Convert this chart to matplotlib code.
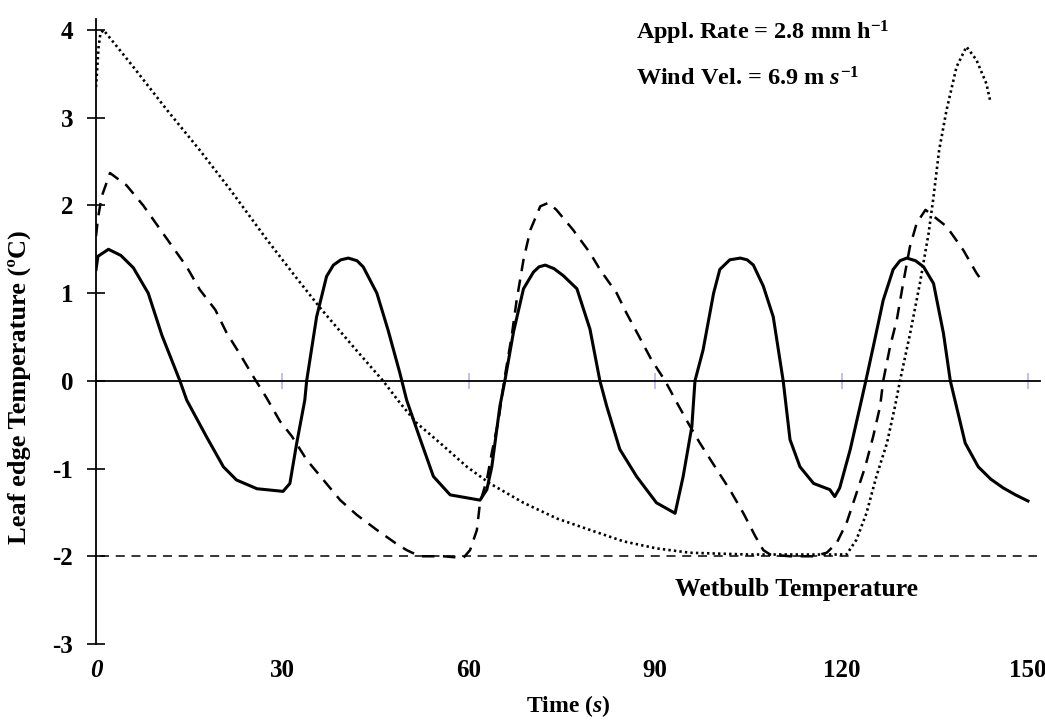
import matplotlib
matplotlib.use("Agg")
import matplotlib.pyplot as plt

plt.rcParams['font.family'] = ['Liberation Serif', 'DejaVu Serif']
plt.rcParams['font.weight'] = 'bold'
plt.rcParams['mathtext.fontset'] = 'custom'
plt.rcParams['mathtext.rm'] = 'Liberation Serif:bold'
plt.rcParams['mathtext.it'] = 'Liberation Serif:bold:italic'
plt.rcParams['mathtext.bf'] = 'Liberation Serif:bold'

# solid curve
t_solid = [0.0, 0.3, 2.0, 4.0, 6.0, 8.4, 10.6, 13.5, 14.6, 17.8, 20.5, 22.6, 25.9, 30.1,
           31.2, 32.3, 33.6, 33.9, 35.5, 37.1, 38.2, 39.4, 40.6, 42.0, 43.0, 45.2, 47.0, 48.9, 50.0,
           52.1, 54.3, 57.0, 61.8, 62.9, 63.7, 65.0, 65.8, 67.2, 68.8, 70.4, 71.3, 72.3, 73.7, 75.2,
           77.4, 79.5, 81.1, 82.2, 84.3, 87.0, 90.2, 93.2, 94.5, 95.9, 96.4, 97.7, 99.4,
           100.4, 102.0, 103.7, 104.8, 105.8, 107.4, 109.0, 110.6, 111.7, 113.3, 115.5, 118.1,
           118.9, 119.7, 121.4, 123.2, 123.9, 125.1, 126.7, 128.3, 129.4, 130.5, 131.9, 133.2, 134.8,
           136.4, 137.5, 139.9, 142.0, 144.0, 146.0, 148.0, 150.0]
y_solid = [1.27, 1.42, 1.50, 1.43, 1.29, 1.00, 0.52, 0.00, -0.22, -0.64, -0.98, -1.13, -1.23, -1.26,
           -1.17, -0.71, -0.22, 0.00, 0.73, 1.19, 1.32, 1.38, 1.40, 1.37, 1.30, 1.00, 0.58, 0.09, -0.22,
           -0.65, -1.09, -1.30, -1.36, -1.24, -0.98, -0.29, 0.00, 0.56, 1.05, 1.24, 1.30, 1.32, 1.28, 1.20,
           1.05, 0.59, 0.00, -0.29, -0.78, -1.09, -1.39, -1.51, -1.09, -0.52, 0.00, 0.35, 1.00,
           1.27, 1.38, 1.40, 1.38, 1.32, 1.08, 0.73, 0.00, -0.67, -0.98, -1.17, -1.24,
           -1.32, -1.22, -0.78, -0.22, 0.00, 0.39, 0.92, 1.27, 1.37, 1.40, 1.37, 1.30, 1.11,
           0.54, 0.00, -0.71, -0.98, -1.12, -1.22, -1.30, -1.37]

# dashed curve
t_dash = [0.0, 0.3, 0.9, 2.25, 4.9, 7.6, 10.0, 12.4, 14.6, 16.7, 19.2, 21.0, 23.2, 25.3, 27.5,
          29.6, 31.5, 33.9, 36.6, 39.3, 42.0, 45.2, 48.4, 50.0, 52.1, 55.9, 59.1, 60.2, 61.3,
          61.8, 62.9, 63.7, 64.8, 65.8, 66.9, 67.7, 68.8, 69.9, 71.5, 72.8, 74.1, 76.8, 79.5,
          81.1, 83.8, 85.4, 87.3, 89.4, 91.6, 93.5, 95.3, 97.2, 99.9, 102.0, 104.2, 106.1,
          107.4, 108.5, 111.7, 115.5, 117.6, 119.2, 120.8, 122.4, 123.8, 125.1, 126.2, 126.7,
          127.8, 128.9, 129.9, 131.0, 132.1, 133.5, 136.9, 139.6, 141.7, 142.3]
y_dash = [1.65, 1.85, 2.10, 2.37, 2.23, 2.00, 1.76, 1.52, 1.30, 1.04, 0.81, 0.55, 0.30, 0.05, -0.20,
          -0.46, -0.63, -0.90, -1.13, -1.36, -1.53, -1.70, -1.86, -1.93, -2.00, -2.00, -2.02, -1.93, -1.70,
          -1.39, -1.13, -0.82, -0.44, 0.05, 0.51, 0.92, 1.38, 1.72, 1.99, 2.03, 1.95, 1.72, 1.46,
          1.27, 1.00, 0.77, 0.52, 0.24, 0.00, -0.25, -0.48, -0.71, -1.01, -1.24, -1.51, -1.77,
          -1.93, -1.98, -2.00, -2.00, -1.96, -1.85, -1.62, -1.28, -0.98, -0.63, -0.29, 0.00,
          0.39, 0.70, 1.11, 1.53, 1.80, 1.95, 1.76, 1.49, 1.23, 1.17]

# dotted curve
t_dot = [0.0, 0.4, 0.7, 1.2, 3.5, 6.0, 11.4, 16.7, 21.6, 27.5, 32.3, 36.1, 41.4, 46.2, 48.9,
         51.6, 55.4, 59.7, 63.4, 68.8, 74.2, 79.5, 84.9, 90.2, 95.6, 105.0, 115.0, 120.8,
         122.4, 124.0, 125.6, 127.3, 128.6, 129.4, 131.0, 132.6, 134.0, 134.8, 135.7, 136.9,
         138.5, 140.1, 141.7, 143.3, 143.9]
y_dot = [3.35, 3.80, 3.96, 4.00, 3.80, 3.58, 3.09, 2.63, 2.18, 1.61, 1.17, 0.83, 0.39, 0.00, -0.25,
         -0.48, -0.71, -0.98, -1.17, -1.39, -1.57, -1.70, -1.83, -1.91, -1.96, -1.98, -1.98, -1.98,
         -1.81, -1.51, -1.09, -0.71, -0.29, 0.00, 0.53, 1.11, 1.68, 2.10, 2.63, 3.09,
         3.58, 3.81, 3.66, 3.39, 3.20]

WETBULB = -2.0
x_ticks = [0, 30, 60, 90, 120, 150]
x_labels = ['0', '30', '60', '90', '120', '150']
y_ticks = [-3, -2, -1, 0, 1, 2, 3, 4]

fig = plt.figure(figsize=(10.45, 7.2), dpi=100)
ax = fig.add_axes([0.0919, 0.1056, 0.9037, 0.8685])

ax.plot(t_solid, y_solid, color='black', lw=2.2, solid_joinstyle='round')
ax.plot(t_dash, y_dash, color='black', lw=1.8, dashes=(5.0, 3.4))
ax.plot(t_dot, y_dot, color='black', lw=1.9, dashes=(0.9, 1.2))
ax.hlines(WETBULB, 0.6, 151.5, color='black', lw=1.1, linestyles=(0, (5.9, 4.4)))

ax.set_xlim(0, 152)
ax.set_ylim(-3, 4.13)

for s in ['top', 'right']:
    ax.spines[s].set_visible(False)
ax.spines['left'].set_linewidth(1.3)
ax.spines['left'].set_bounds(-3, 4.13)
ax.spines['bottom'].set_position(('data', 0))
ax.spines['bottom'].set_linewidth(1.3)

ax.set_xticks(x_ticks)
ax.tick_params(axis='x', direction='inout', length=12, width=1.2, color='#b4b4f0',
               labelbottom=False)
ax.set_yticks(y_ticks)
ax.set_yticklabels([str(v) for v in y_ticks], fontsize=18, fontweight='bold')
ax.tick_params(axis='y', direction='inout', length=13, width=1.2, pad=10)
for tk, v in zip(ax.yaxis.get_major_ticks(), y_ticks):
    if v in (4, 0, -3):
        tk.tick1line.set_color('#b4b4f0')

sec = ax.secondary_xaxis('bottom')
sec.set_xticks(x_ticks)
sec.set_xticklabels(x_labels, fontsize=18, fontweight='bold')
sec.tick_params(length=0, pad=11)
sec.spines['bottom'].set_visible(False)
sec.get_xticklabels()[0].set_fontstyle('italic')
sec.set_xlabel('Time ($\\mathit{s}$)', fontsize=17, fontweight='bold', labelpad=8)

ax.set_ylabel('Leaf edge Temperature (ºC)', fontsize=19, fontweight='bold')
ax.yaxis.set_label_coords(-0.069, 0.411)

ax.text(86.9, 3.97, 'Appl. Rate = 2.8 mm h$^{\\mathregular{-1}}$', fontsize=17.5,
        fontweight='bold', va='center', ha='left')
ax.text(86.9, 3.44, 'Wind Vel. = 6.9 m $\\mathit{s}^{\\mathregular{-1}}$', fontsize=17.5,
        fontweight='bold', va='center', ha='left')
ax.text(93.2, -2.38, 'Wetbulb Temperature', fontsize=18.5, fontweight='bold',
        va='center', ha='left')

fig.savefig('out.png', dpi=100)
